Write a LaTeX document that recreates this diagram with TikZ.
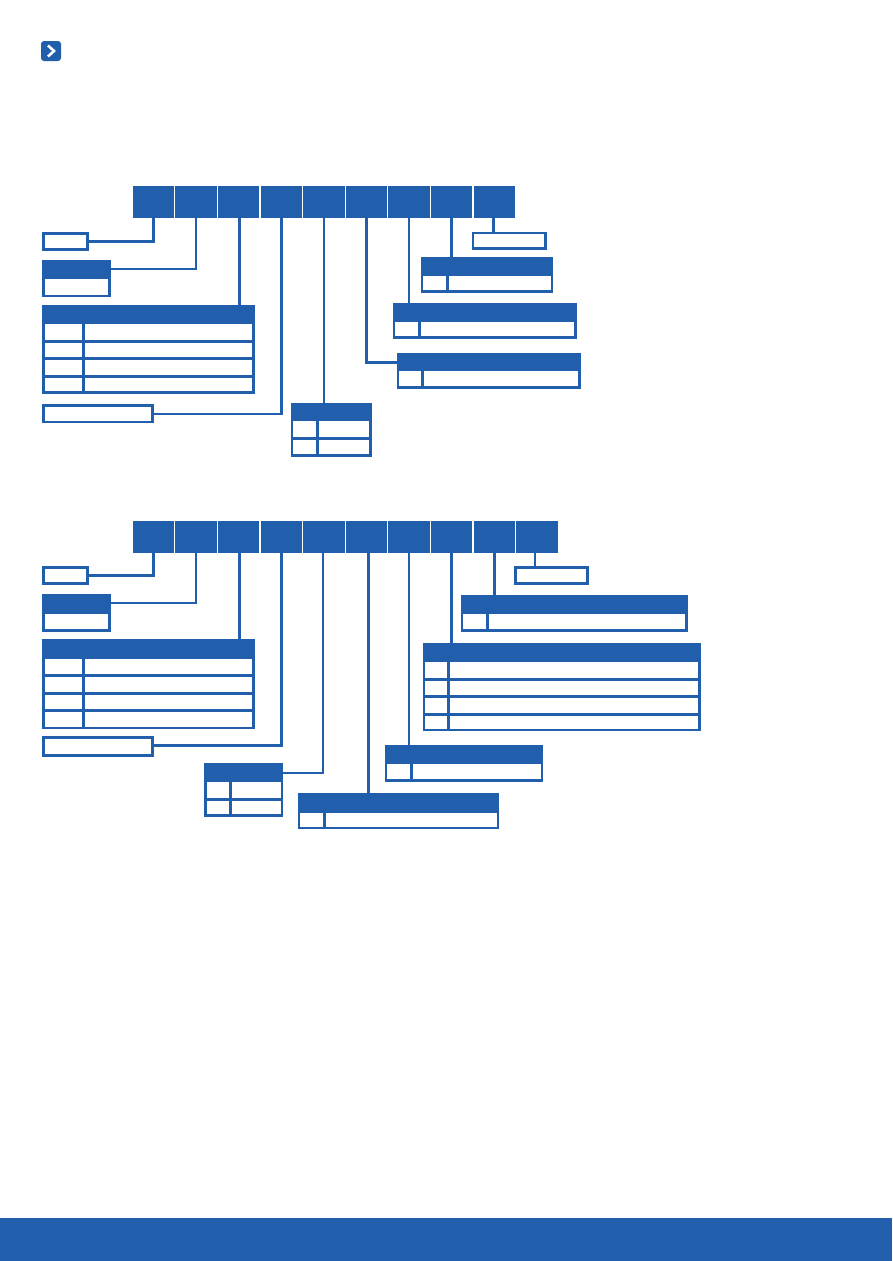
\documentclass[tikz,border=0pt]{standalone}
\usetikzlibrary{fit}
\definecolor{ink}{RGB}{33,95,172}
\tikzset{
  lk/.style={draw=ink, line width=2.7pt},
  obox/.style={draw=ink, line width=2.7pt, inner sep=0pt, rectangle},
  cell/.style={fill=ink, inner sep=0pt, minimum width=41.5pt, minimum height=31.5pt, anchor=north west},
}
\newcommand{\obx}[5]{\node[obox, fit={(#2,#3) (#4,#5)}] (#1) {};}
\newcommand{\hbx}[6]{%
  \fill[ink] (#2,#3) rectangle (#4,#6);
  \node[obox, fit={(#2,#3) (#4,#5)}] (#1) {};}
\newcommand{\tbx}[7]{%
  \hbx{#1}{#2}{#3}{#4}{#5}{#6}
  \draw[lk] (#7,#6) -- (#7,#5);}
\newcommand{\rsep}[2]{\draw[lk] (#1.west |- 0,#2) -- (#1.east |- 0,#2);}
\begin{document}
\begin{tikzpicture}[x=1pt,y=-1pt]
\useasboundingbox (0,0) rectangle (892,1261);
\fill[white] (0,0) rectangle (892,1261);
% icon
\fill[ink, rounded corners=3pt] (41,41) rectangle (61,61);
\draw[white, line width=2.6pt] (48,45.5) -- (54,51) -- (48,56.5);
% footer
\fill[ink] (0,1218) rectangle (892,1261);

% ===== diagram 1 =====
\foreach \i in {1,...,9} \node[cell] (a\i) at ({132.5+42.6*(\i-1)},186) {};
\obx{p1}{43.5}{233.5}{87.3}{249.6}
\hbx{p2}{43.4}{261.4}{109.6}{296}{279.3}
\tbx{p3}{43.4}{306.4}{253.6}{392.6}{324}{83.3}
\rsep{p3}{341.3}\rsep{p3}{358.8}\rsep{p3}{376.5}
\obx{p4}{43.4}{405.7}{152.6}{422}
\tbx{p5}{292}{404.7}{370.3}{455.3}{421}{317.3}
\rsep{p5}{438.3}
\tbx{p6}{398}{354}{579.3}{387.6}{371}{422.3}
\tbx{p7}{394}{304}{575.3}{337.6}{321.7}{419.3}
\tbx{p8}{422}{258}{552}{291.3}{275.7}{447.3}
\obx{p9}{473}{233}{545.3}{248.6}

\draw[lk] (a1.south) |- (p1.east);
\draw[lk] (a2.south) |- ([yshift=-9pt]p2.north east);
\draw[lk] ([xshift=0.8pt]a3.south) -- ([xshift=0.8pt]a3.south |- p3.north);
\draw[lk] (a4.south) |- (p4.east);
\draw[lk] (a5.south) -- (a5.south |- p5.north);
\draw[lk] (a6.south) |- ([yshift=-10pt]p6.north west);
\draw[lk] (a7.south) -- (a7.south |- p7.north);
\draw[lk] (a8.south) -- (a8.south |- p8.north);
\draw[lk] ([xshift=-1pt]a9.south) -- ([xshift=-1pt]a9.south |- p9.north);

% ===== diagram 2 =====
\foreach \i in {1,...,10} \node[cell] (b\i) at ({132.5+42.6*(\i-1)},521) {};
\obx{q1}{43.5}{567.4}{87.3}{583.6}
\hbx{q2}{43.4}{595.4}{109.6}{630.3}{614.3}
\tbx{q3}{43.4}{640.4}{253.6}{727.9}{659.3}{83.3}
\rsep{q3}{675.5}\rsep{q3}{693.3}\rsep{q3}{710.5}
\obx{q4}{43.4}{737.4}{152.6}{755.3}
\tbx{q5}{205.4}{764.7}{282}{815.3}{782.3}{230.7}
\rsep{q5}{799.3}
\tbx{q6}{299}{794.7}{498}{828}{813.3}{324.3}
\tbx{q7}{386}{746.7}{542}{780.3}{764.3}{411.7}
\tbx{q8}{424}{644.7}{699.3}{730}{662.3}{448.3}
\rsep{q8}{679.3}\rsep{q8}{696.7}\rsep{q8}{714.3}
\tbx{q9}{462}{596.4}{686.3}{630.3}{614}{487.3}
\obx{q10}{515.4}{567.4}{587.6}{583.6}

\draw[lk] (b1.south) |- (q1.east);
\draw[lk] (b2.south) |- ([yshift=-9pt]q2.north east);
\draw[lk] ([xshift=0.8pt]b3.south) -- ([xshift=0.8pt]b3.south |- q3.north);
\draw[lk] (b4.south) |- ([yshift=-9.5pt]q4.north east);
\draw[lk] ([xshift=-1pt]b5.south) |- ([yshift=-9.5pt]q5.north east);
\draw[lk] ([xshift=2pt]b6.south) -- ([xshift=2pt]b6.south |- q6.north);
\draw[lk] (b7.south) -- (b7.south |- q7.north);
\draw[lk] (b8.south) -- (b8.south |- q8.north);
\draw[lk] (b9.south) -- (b9.south |- q9.north);
\draw[lk] ([xshift=-2pt]b10.south) -- ([xshift=-2pt]b10.south |- q10.north);
\end{tikzpicture}
\end{document}
